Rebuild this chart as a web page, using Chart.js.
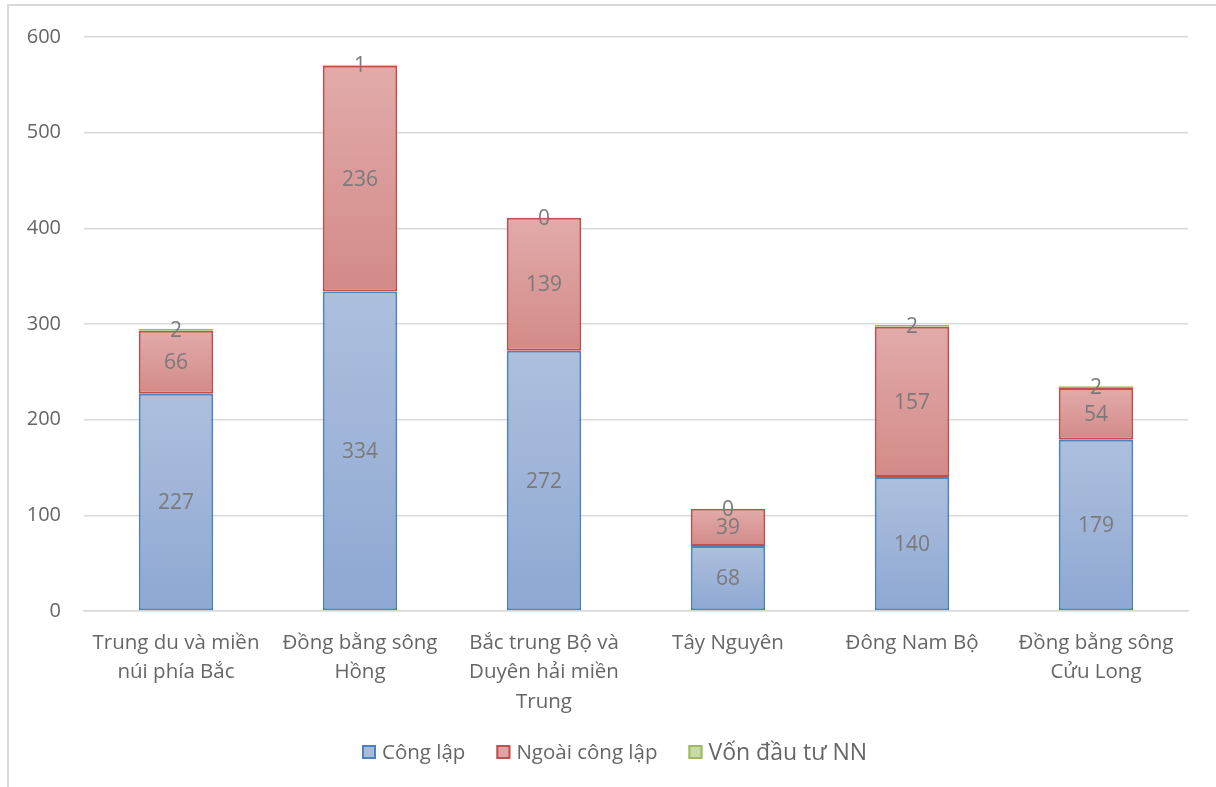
<!DOCTYPE html>
<html>
<head>
<meta charset="utf-8">
<script src="https://cdn.jsdelivr.net/npm/chart.js@4/dist/chart.umd.min.js"></script>
<style>
  html, body { margin: 0; padding: 0; background: #fff; }
  #wrap { position: relative; width: 1216px; height: 787px; }
  #frame { position: absolute; left: 7px; top: 4px; right: 0; bottom: 0;
           border-left: 2px solid #d9d9d9; border-top: 2px solid #d9d9d9; }
  canvas { position: absolute; left: 0; top: 0; }
</style>
</head>
<body>
<div id="wrap">
  <div id="frame"></div>
  <canvas id="c" width="1216" height="787"></canvas>
</div>
<script>
// Regions (multi-line category labels)
const regions = [
  ["Trung du và miền", "núi phía Bắc"],
  ["Đồng bằng sông", "Hồng"],
  ["Bắc trung Bộ và", "Duyên hải miền", "Trung"],
  "Tây Nguyên",
  "Đông Nam Bộ",
  ["Đồng bằng sông", "Cửu Long"]
];

// Series values per region
const congLap      = [227, 334, 272, 68, 140, 179];
const ngoaiCongLap = [66, 236, 139, 39, 157, 54];
const vonDauTuNN   = [2, 1, 0, 0, 2, 2];

// Value axis ticks
const yMin = 0, yMax = 600, yStep = 100;

const FONT = "'Open Sans', Lato, sans-serif";
const TEXT = '#666666';

// Vertical gradient over one stacked segment
function segGradient(topColor, bottomColor) {
  return function (ctx) {
    const chart = ctx.chart;
    if (!chart.chartArea || ctx.type !== 'data') return bottomColor;
    const i = ctx.dataIndex, d = ctx.datasetIndex;
    let base = 0;
    for (let k = 0; k < d; k++) base += chart.data.datasets[k].data[i];
    const v = chart.data.datasets[d].data[i];
    const ys = chart.scales.y;
    const y0 = ys.getPixelForValue(base + v), y1 = ys.getPixelForValue(base);
    if (y1 - y0 < 1) return bottomColor;
    const g = chart.ctx.createLinearGradient(0, y0, 0, y1);
    g.addColorStop(0, topColor);
    g.addColorStop(1, bottomColor);
    return g;
  };
}

// Value labels centred on each segment
const segmentLabels = {
  id: 'segmentLabels',
  afterDatasetsDraw(chart) {
    const c = chart.ctx;
    c.save();
    c.font = "21px " + FONT;
    c.fillStyle = '#7a7a7a';
    c.textAlign = 'center';
    c.textBaseline = 'middle';
    chart.data.datasets.forEach((ds, d) => {
      const meta = chart.getDatasetMeta(d);
      meta.data.forEach((bar, i) => {
        const p = bar.getProps(['x', 'y', 'base'], true);
        c.fillText(String(ds.data[i]), p.x, (p.y + p.base) / 2 + 1);
      });
    });
    c.restore();
  }
};

// Legend row under the category labels
const legendRow = {
  id: 'legendRow',
  afterDraw(chart) {
    const c = chart.ctx;
    const box = 14, gapText = 6, gapItem = 31, cy = 752;
    const items = chart.data.datasets.map(ds => {
      c.font = ds.legendFontSize + "px " + FONT;
      return { ds, w: c.measureText(ds.label).width, font: c.font };
    });
    const total = items.reduce((s, it) => s + box + gapText + it.w, 0) + gapItem * (items.length - 1);
    let x = Math.round((chart.width - total) / 2) + 7;
    c.save();
    c.textBaseline = 'middle';
    c.textAlign = 'left';
    items.forEach(it => {
      c.fillStyle = it.ds.legendFill;
      c.fillRect(x, cy - box / 2, box, box);
      c.strokeStyle = it.ds.borderColor;
      c.lineWidth = 2;
      c.strokeRect(x + 1, cy - box / 2 + 1, box - 2, box - 2);
      c.font = it.font;
      c.fillStyle = TEXT;
      c.fillText(it.ds.label, x + box + gapText, cy + 1);
      x += box + gapText + it.w + gapItem;
    });
    c.restore();
  }
};

new Chart(document.getElementById('c'), {
  type: 'bar',
  data: {
    labels: regions,
    datasets: [
      {
        label: 'Công lập',
        data: congLap,
        backgroundColor: segGradient('#adbfdd', '#8ea8d3'),
        borderColor: '#4f81bd',
        borderWidth: 2,
        borderSkipped: false,
        legendFill: '#a7bbdb',
        legendFontSize: 20.5
      },
      {
        label: 'Ngoài công lập',
        data: ngoaiCongLap,
        backgroundColor: segGradient('#e1abaa', '#d38a88'),
        borderColor: '#c0504d',
        borderWidth: 2,
        borderSkipped: false,
        legendFill: '#dea5a4',
        legendFontSize: 20.5
      },
      {
        label: 'Vốn đầu tư NN',
        data: vonDauTuNN,
        backgroundColor: segGradient('#c5d8a4', '#b2cb86'),
        borderColor: '#9bbb59',
        borderWidth: 2,
        borderSkipped: false,
        legendFill: '#c8dbab',
        legendFontSize: 23
      }
    ]
  },
  options: {
    responsive: false,
    animation: false,
    layout: { padding: { top: 37, left: 0, right: 28, bottom: 0 } },
    datasets: { bar: { categoryPercentage: 1.0, barPercentage: 0.405 } },
    scales: {
      x: {
        stacked: true,
        grid: { display: false, drawTicks: false },
        border: { display: true, color: '#d9d9d9', width: 1.5 },
        ticks: {
          padding: 17,
          maxRotation: 0,
          autoSkip: false,
          color: TEXT,
          font: { family: FONT, size: 20.5, lineHeight: 1.44 }
        },
        afterFit(scale) { scale.height = 176; }
      },
      y: {
        stacked: true,
        min: yMin, max: yMax,
        grid: { color: '#d9d9d9', lineWidth: 1.5, drawTicks: false },
        border: { display: false },
        ticks: {
          stepSize: yStep,
          padding: 23,
          color: TEXT,
          font: { family: FONT, size: 20 }
        },
        afterFit(scale) { scale.width = 84; }
      }
    },
    plugins: {
      tooltip: { enabled: false },
      legend: { display: false }
    }
  },
  plugins: [segmentLabels, legendRow]
});
</script>
</body>
</html>
